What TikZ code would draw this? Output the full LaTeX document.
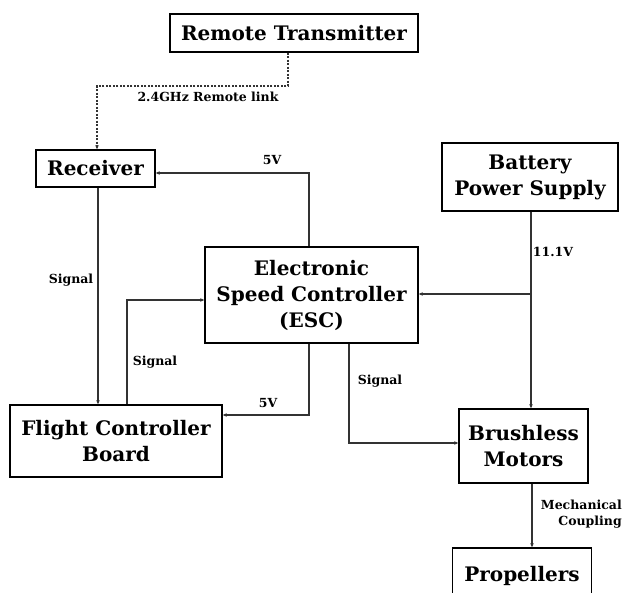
\documentclass[tikz,border=0pt]{standalone}
\usepackage{fontspec}
\setmainfont{DejaVu Serif}
\usetikzlibrary{arrows.meta,positioning,calc}
\tikzset{
  blk/.style={
    draw, line width=1.4pt, minimum height=#1, align=center,
    font=\fontsize{20}{26}\selectfont\bfseries, inner sep=2pt
  },
  blk/.default=38pt,
  lbl/.style={font=\fontsize{12.5}{16}\selectfont\bfseries, inner sep=1pt, align=right},
  wire/.style={-{Stealth[length=4pt,width=3.5pt]}, line width=1.1pt, black!80},
  radio/.style={-{Stealth[length=4pt,width=3.5pt]}, line width=1.1pt, black!80, dash pattern=on 2pt off 1.5pt}
}
\begin{document}
\begin{tikzpicture}[x=1pt,y=-1pt]
  \useasboundingbox (0,0) rectangle (624,592);
  % blocks
  \node[blk, minimum width=248pt] (tx) at (294,33) {Remote Transmitter};
  \node[blk=37pt, minimum width=119pt] (rx) at (95.5,168.5) {Receiver};
  \node[blk=68pt, minimum width=176pt] (bat) at (530,177) {Battery\\Power Supply};
  \node[blk=96pt, minimum width=213pt] (esc) at (311.5,295) {Electronic\\Speed Controller\\(ESC)};
  \node[blk=72pt, minimum width=212pt] (fcb) at (116,441) {Flight Controller\\Board};
  \node[blk=74pt, minimum width=129pt] (bldc) at (523.5,446) {Brushless\\Motors};
  \node[blk=56pt, minimum width=139pt] (prop) at (522,576) {Propellers};
  \coordinate (bus) at (531,294);
  % links
  \draw[radio] ([xshift=-6pt]tx.south) |- (97,86) -- ([xshift=1.5pt]rx.north);
  \draw[wire] ([xshift=2.5pt]rx.south) -- ([xshift=2.5pt]rx.south |- fcb.north);
  \draw[wire] ([xshift=11pt]fcb.north) |- ([yshift=-5pt]esc.west);
  \draw[wire] ([xshift=-2.5pt]esc.north) |- ([yshift=-4.5pt]rx.east);
  \draw[wire] ([xshift=-2.5pt]esc.south) |- ([yshift=26pt]fcb.east);
  \draw[wire] ([xshift=37.5pt]esc.south) |- ([yshift=3pt]bldc.west);
  \draw[wire] (bat.south -| bus) -- (bldc.north -| bus);
  \draw[wire] (bus) -- (esc.east |- bus);
  \draw[wire] (bldc.south -| 532,0) -- (prop.north -| 532,0);
  % labels
  \node[lbl] (lrf) at (208,97) {2.4GHz Remote link};
  \node[lbl] (lrx) at (272,160) {5V};
  \node[lbl] (lsa) at (71,280) {Signal};
  \node[lbl] (lsb) at (155,362) {Signal};
  \node[lbl] (lfc) at (268,403) {5V};
  \node[lbl] (lbat) at (553,252) {11.1V};
  \node[lbl] (lsc) at (380,381) {Signal};
  \node[lbl, anchor=east] (lmc) at (623,514) {Mechanical\\Coupling};
\end{tikzpicture}
\end{document}
